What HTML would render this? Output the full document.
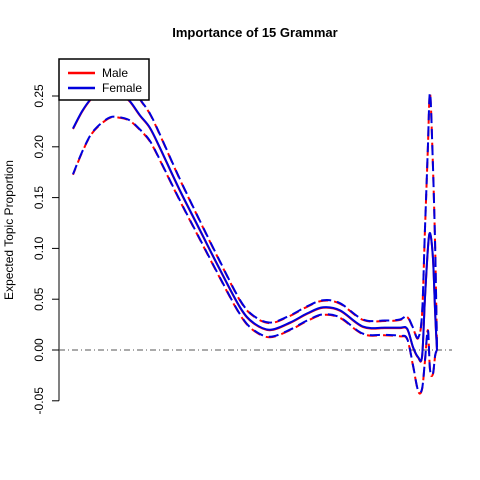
<!DOCTYPE html>
<html><head><meta charset="utf-8"><style>
body{margin:0;background:#fff}
svg{display:block;font-family:"Liberation Sans",Arial,sans-serif}
</style></head><body>
<svg id="c" width="480" height="480">
<defs><clipPath id="pc"><rect x="59" y="59" width="402" height="342"/></clipPath></defs>
<text x="255" y="37" text-anchor="middle" font-weight="bold" font-size="13">Importance of 15 Grammar</text>
<text transform="translate(13,230) rotate(-90)" text-anchor="middle" font-size="12">Expected Topic Proportion</text>
<g id="axis"></g>
<line x1="59" x2="452" y1="350" y2="350" stroke="#555" stroke-dasharray="6,3,1,3"/>
<g id="series" clip-path="url(#pc)"></g>
<g>
<rect x="59" y="59" width="90" height="41" fill="#fff" stroke="#000" stroke-width="1.5"/>
<line x1="68" x2="95" y1="73" y2="73" stroke="#f00" stroke-width="2.5"/>
<text x="102" y="77" font-size="12">Male</text>
<line x1="68" x2="95" y1="88" y2="88" stroke="#0000dd" stroke-width="2.5"/>
<text x="102" y="92" font-size="12">Female</text>
</g>
</svg>
<script>
const xs    =[0,0.025,0.049,0.074,0.102,0.129,0.156,0.184,0.211,0.239,0.294,0.349,0.404,0.459,0.495,0.541,0.596,0.643,0.687,0.734,0.797,0.857,0.898,0.918,0.934,0.948,0.959,0.967,0.975,0.981,0.989,0.995,1.0];
const mean  =[0.218,0.235,0.247,0.254,0.256,0.253,0.245,0.231,0.219,0.199,0.157,0.118,0.079,0.042,0.027,0.020,0.027,0.036,0.042,0.039,0.023,0.022,0.022,0.021,0.003,-0.007,-0.006,0.052,0.100,0.115,0.090,0.036,0.0];
const upper =[0.263,0.275,0.283,0.286,0.284,0.277,0.265,0.247,0.233,0.212,0.168,0.127,0.087,0.049,0.034,0.027,0.034,0.043,0.049,0.046,0.030,0.029,0.030,0.033,0.022,0.012,0.036,0.120,0.200,0.253,0.180,0.100,0.003];
const lower =[0.173,0.195,0.212,0.222,0.229,0.229,0.226,0.217,0.206,0.187,0.147,0.109,0.071,0.035,0.020,0.013,0.020,0.029,0.035,0.032,0.016,0.015,0.014,0.011,-0.015,-0.040,-0.038,-0.010,0.020,-0.020,-0.023,-0.005,0.0];
const ticks =[-0.05,0,0.05,0.10,0.15,0.20,0.25];
const tickLabels=["-0.05","0.00","0.05","0.10","0.15","0.20","0.25"];
const X=v=>73+v*364, Y=v=>350-v*1016;
const NS="http://www.w3.org/2000/svg";
const ax=document.getElementById('axis');
function mk(t,a,p){const e=document.createElementNS(NS,t);for(const k in a)e.setAttribute(k,a[k]);p.appendChild(e);return e;}
mk('line',{x1:59,x2:59,y1:Y(ticks[0]),y2:Y(ticks[ticks.length-1]),stroke:'#000'},ax);
ticks.forEach((t,i)=>{
 const l=mk('line',{x1:52,x2:59,y1:Y(t),y2:Y(t),stroke:'#000'},ax);
 
 
 const tx=mk('text',{transform:`translate(43,${Y(t)}) rotate(-90)`,'text-anchor':'middle','font-size':12},ax);
 tx.textContent=tickLabels[i];
 
 
});
const sg=document.getElementById('series');
function smooth(arr,off){
 const P=arr.map((v,i)=>[X(xs[i]),Y(v)+off]);
 let d='M'+P[0][0].toFixed(1)+','+P[0][1].toFixed(1);
 for(let i=0;i<P.length-1;i++){
  const p0=P[Math.max(0,i-1)],p1=P[i],p2=P[i+1],p3=P[Math.min(P.length-1,i+2)];
  const c1=[p1[0]+(p2[0]-p0[0])/6,p1[1]+(p2[1]-p0[1])/6];
  const c2=[p2[0]-(p3[0]-p1[0])/6,p2[1]-(p3[1]-p1[1])/6];
  d+=`C${c1[0].toFixed(1)},${c1[1].toFixed(1)} ${c2[0].toFixed(1)},${c2[1].toFixed(1)} ${p2[0].toFixed(1)},${p2[1].toFixed(1)}`;
 }
 return d;
}
function path(arr,color,dash,off,doff,name){
 const p=mk('path',{d:smooth(arr,off),fill:'none',stroke:color,'stroke-width':2,'stroke-linejoin':'round'},sg);
 if(dash){p.setAttribute('stroke-dasharray','10,6');p.setAttribute('stroke-dashoffset',doff);}
 
 
}
path(mean,'#f00',false,0.5,0,'male-mean-line');
path(upper,'#f00',true,0.5,3,'male-upper-ci');
path(lower,'#f00',true,0.5,3,'male-lower-ci');
path(mean,'#0000dd',false,0,0,'female-mean-line');
path(upper,'#0000dd',true,0,0,'female-upper-ci');
path(lower,'#0000dd',true,0,0,'female-lower-ci');
</script>
</body></html>
